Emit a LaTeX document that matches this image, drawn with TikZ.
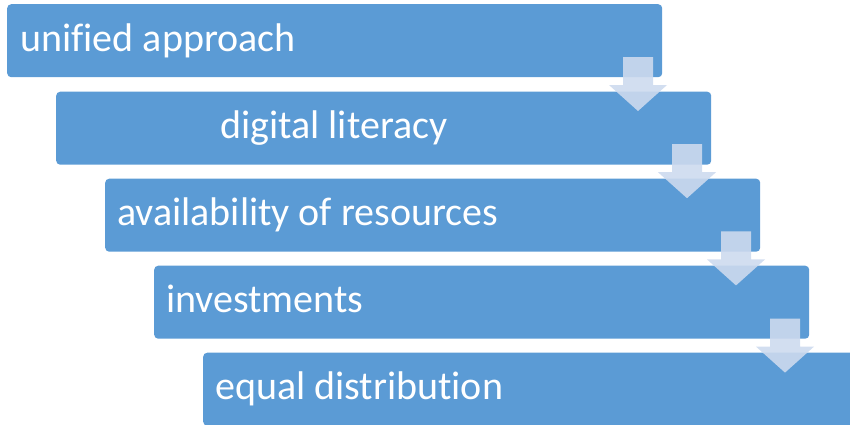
\documentclass[tikz,border=0pt]{standalone}
\usepackage{fontspec}
\setmainfont{Carlito}[Ligatures={NoCommon,NoDiscretionary,NoRare}]
\definecolor{boxblue}{HTML}{5B9BD5}
\definecolor{arrowblue}{HTML}{CDDAEE}
\tikzset{
  stepbox/.style={draw=none, fill=boxblue, rounded corners=4pt, inner sep=0pt,
    minimum width=655pt, minimum height=73pt, anchor=north west},
  steptext/.style={anchor=base west, inner sep=0pt, text=white,
    font=\fontsize{40}{48}\selectfont},
  downarrow/.style={fill=arrowblue, fill opacity=0.9, draw=none}
}
\begin{document}
\begin{tikzpicture}[x=1pt,y=-1pt]
\useasboundingbox (0,0) rectangle (850,424);
\clip (0,0) rectangle (850,424);
% boxes
\node[stepbox] (b1) at (7,4) {};
\node[stepbox] (b2) at (56,91.5) {};
\node[stepbox] (b3) at (105,178.5) {};
\node[stepbox] (b4) at (154,265.5) {};
\node[stepbox] (b5) at (203,352.5) {};
% texts
\node[steptext] (t1) at (20.2,51.6) {unified approach};
\node[steptext] (t2) at (220.2,138.5) {digital literacy};
\node[steptext] (t3) at (117,225.8) {availability of resources};
\node[steptext] (t4) at (166,312.8) {investments};
\node[steptext] (t5) at (215,399.8) {equal distribution};
% arrows
\foreach \i in {0,1,2,3}{
  \pgfmathsetmacro{\dx}{49*\i}
  \pgfmathsetmacro{\dy}{87.2*\i}
  \begin{scope}[shift={(\dx,\dy)}]
    \path[downarrow] (623,57) -- (653,57) -- (653,85) -- (667,85) -- (638,111)
      -- (609,85) -- (623,85) -- cycle;
  \end{scope}
}
\end{tikzpicture}
\end{document}
